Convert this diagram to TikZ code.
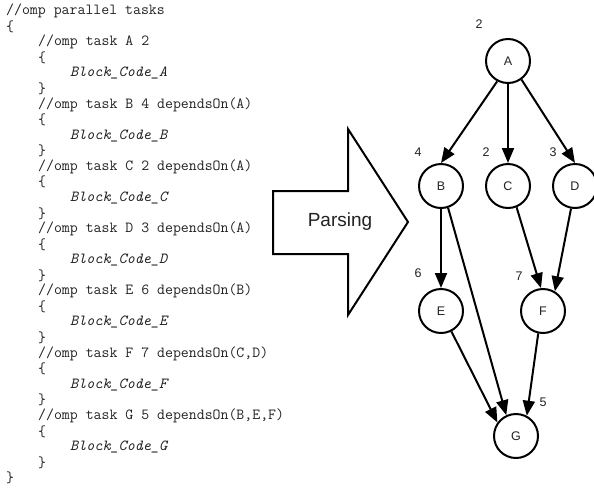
\documentclass[tikz,border=0pt]{standalone}
\usepackage{fontspec}
\setmainfont{Liberation Sans}
\usetikzlibrary{arrows.meta}
\definecolor{ink}{HTML}{222222}
\begin{document}
\begin{tikzpicture}[x=1pt,y=-1pt,
  code/.style={anchor=west,inner sep=0pt,text=ink,
    font=\ttfamily\fontsize{15.4}{16}\selectfont},
  blk/.style={code,font=\ttfamily\itshape\fontsize{15.4}{16}\selectfont},
  task/.style={circle,draw,line width=2pt,minimum size=44pt,inner sep=0pt,
    text=ink,font=\fontsize{12.5}{14}\selectfont},
  weight/.style={inner sep=0pt,text=ink,font=\fontsize{12.5}{14}\selectfont},
  edge/.style={line width=2pt,-{Triangle[length=15pt,width=12pt]}},
  bigarrow/.style={line width=2pt,line join=miter}]
\useasboundingbox (0,0) rectangle (594,493);

% ---- annotated source code ----
\def\lh{15.57}
\node[code] (head) at (6,11) {//omp parallel tasks};
\node[code] (open) at (6,{11+\lh}) {\{};
\foreach \t/\txt [count=\k from 0] in {
    A/{A 2},
    B/{B 4 dependsOn(A)},
    C/{C 2 dependsOn(A)},
    D/{D 3 dependsOn(A)},
    E/{E 6 dependsOn(B)},
    F/{F 7 dependsOn(C,D)},
    G/{G 5 dependsOn(B,E,F)}}{
  \pgfmathsetmacro\yy{11+\lh*(2+4*\k)}
  \node[code] (omp\t) at (38,\yy) {//omp task \txt};
  \node[code] (lb\t) at (38,{\yy+\lh}) {\{};
  \node[blk] (body\t) at (70,{\yy+2*\lh}) {Block\_Code\_\t};
  \node[code] (rb\t) at (38,{\yy+3*\lh}) {\}};
}
\node[code] (close) at (6,{11+30*\lh}) {\}};

% ---- parsing arrow ----
\draw[bigarrow] (273,191) -- (348,191) -- (348,129) -- (408,222)
  -- (348,315) -- (348,254) -- (273,254) -- cycle;
\node[text=ink,inner sep=0pt,font=\fontsize{19}{22}\selectfont] (parse) at (340,222) {Parsing};

% ---- task graph ----
\node[task] (A) at (508,61) {A};
\node[task] (B) at (441,186) {B};
\node[task] (C) at (508,186) {C};
\node[task] (D) at (575,186) {D};
\node[task] (E) at (441,311) {E};
\node[task] (F) at (543,311) {F};
\node[task] (G) at (516,436) {G};

\node[weight] (wA) at (479,24) {2};
\node[weight] (wB) at (418,152) {4};
\node[weight] (wC) at (486,152) {2};
\node[weight] (wD) at (553,152) {3};
\node[weight] (wE) at (418,273) {6};
\node[weight] (wF) at (519,276) {7};
\node[weight] (wG) at (543,402) {5};

\draw[edge] (A.242) -- (B.north);
\draw[edge] (A.south) -- (C.north);
\draw[edge] (A.-54) -- (D.north);
\draw[edge] (B.south) -- (E.north);
\draw[edge] (B.-72) -- (G.115);
\draw[edge] (C.-68) -- (F.95);
\draw[edge] (D.-100) -- (F.59);
\draw[edge] (E.-63) -- (G.144);
\draw[edge] (F.-102) -- (G.62);
\end{tikzpicture}
\end{document}
